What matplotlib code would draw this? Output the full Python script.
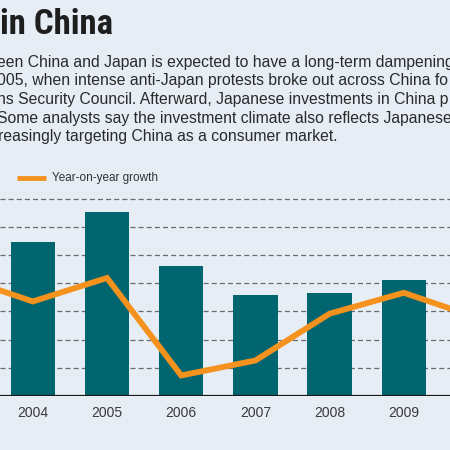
import matplotlib
matplotlib.use('Agg')
import matplotlib.pyplot as plt
from matplotlib.lines import Line2D

plt.rcParams['font.family'] = ['Liberation Sans', 'DejaVu Sans']

# Japanese direct investment in China (billion USD) and year-on-year growth (%)
years = [2003, 2004, 2005, 2006, 2007, 2008, 2009, 2010]
investment = [5.05, 5.45, 6.53, 4.60, 3.59, 3.65, 4.10, 4.08]
growth = [20.6, 7.9, 19.8, -29.6, -22.0, 1.7, 12.3, -0.5]
shown_years = [2004, 2005, 2006, 2007, 2008, 2009]

title = 'in China'
body = [
    'een China and Japan is expected to have a long-term dampening',
    '005, when intense anti-Japan protests broke out across China fo',
    'ns Security Council. Afterward, Japanese investments in China p',
    'Some analysts say the investment climate also reflects Japanese',
    'reasingly targeting China as a consumer market.',
]
legend_label = 'Year-on-year growth'

BG = '#e6edf5'
TEAL = '#00656f'
ORANGE = '#f5921e'

fig = plt.figure(figsize=(4.5, 4.5), dpi=100, facecolor=BG)

# texts (cropped at the figure edges like the reference)
fig.text(0.0, 1 - 24 / 450, title, fontsize=25, fontweight='bold',
         family=['Roboto Condensed', 'Liberation Sans Narrow', 'Liberation Sans'],
         color='#1e1e1e', va='center', ha='left')
for i, line in enumerate(body):
    x0 = -2 / 450 if i == 4 else -3 / 450
    fig.text(x0, 1 - (62 + i * 18.7) / 450, line, fontsize=11.3,
             color='#2a2a2a', va='center', ha='left')

fig.add_artist(Line2D([17 / 450, 46 / 450], [1 - 178 / 450] * 2,
                      transform=fig.transFigure, color=ORANGE, lw=3.5,
                      solid_capstyle='butt'))
fig.text(52 / 450, 1 - 178 / 450, legend_label, fontsize=8.5,
         color='#333333', va='center', ha='left')

# axes
ax_bottom = 396
ax_top = 190
unit = 28.2
ax = fig.add_axes([0, (450 - ax_bottom) / 450, 1, (ax_bottom - ax_top) / 450])
ax.set_facecolor(BG)
ytop = (ax_bottom - ax_top) / unit
x_left = 2004 - 32.8 / 74.2
x_right = 2004 + (450 - 32.8) / 74.2

ax.bar(years, investment, width=0.6, color=TEAL, zorder=2)
for v in range(1, 8):
    ax.axhline(v, color='#6a6a6a', lw=0.9, ls=(0, (4, 2.5)), zorder=1)
ax.axhline(0, color='#1a1a1a', lw=1.6, zorder=3)
ax.set_xlim(x_left, x_right)
ax.set_ylim(0, ytop)
ax.set_xticks(shown_years)
ax.set_xticklabels([str(y) for y in shown_years], fontsize=10, color='#3a3a3a')
ax.tick_params(axis='x', length=0, pad=7)
ax.set_yticks([])
for s in ax.spines.values():
    s.set_visible(False)

ax2 = ax.twinx()
ax2.plot(years, growth, color=ORANGE, lw=4.2, solid_joinstyle='miter', zorder=4)
ax2.set_ylim(-40, -40 + ytop * 100 / 7)
ax2.set_xlim(x_left, x_right)
ax2.set_yticks([])
for s in ax2.spines.values():
    s.set_visible(False)

fig.savefig('out.png', dpi=100, facecolor=BG)
